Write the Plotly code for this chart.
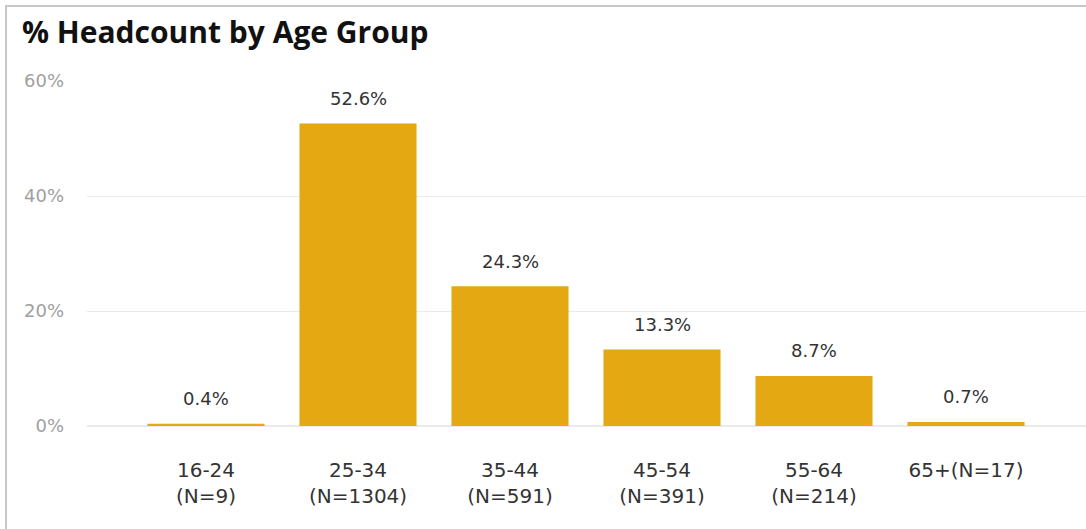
import plotly.graph_objects as go

categories = ["16-24<br>(N=9)", "25-34<br>(N=1304)", "35-44<br>(N=591)",
              "45-54<br>(N=391)", "55-64<br>(N=214)", "65+(N=17)"]
values = [0.4, 52.6, 24.3, 13.3, 8.7, 0.7]
y_ticks = [0, 20, 40, 60]
y_tick_labels = ["0%", "20%", "40%", "60%"]

W, H = 1086, 529
L, R, T, B = 87, 0, 81, 103
pw, ph = W - L - R, H - T - B

bar_color = "#E3A812"
FONT = "DejaVu Sans"

fig = go.Figure()
fig.add_trace(go.Bar(
    x=categories, y=values, marker=dict(color=bar_color, line=dict(width=0)),
    hoverinfo="skip",
))

annotations = []
for c, v in zip(categories, values):
    annotations.append(dict(
        x=c, y=v, xref="x", yref="y", text=f"{v:.1f}%", showarrow=False,
        yanchor="middle", yshift=25,
        font=dict(family=FONT, size=18, color="#333333"),
    ))

fig.update_layout(
    width=W, height=H,
    margin=dict(l=L, r=R, t=T, b=B, pad=0),
    paper_bgcolor="white", plot_bgcolor="white",
    bargap=0.23,
    showlegend=False,
    title=dict(text="<b>% Headcount by Age Group</b>", x=22 / W, xanchor="left",
               xref="container", y=1 - 32 / H, yref="container", yanchor="middle",
               font=dict(family="Open Sans", size=30, color="#111111")),
    annotations=annotations,
    shapes=[dict(type="rect", xref="paper", yref="paper",
                 x0=(6 - L) / pw, x1=(W + 20 - L) / pw,
                 y0=-1, y1=(H - B - 6) / ph,
                 line=dict(color="#C8C8C8", width=2), fillcolor="rgba(0,0,0,0)",
                 layer="below")],
    xaxis=dict(
        type="category",
        range=[-0.783, -0.783 + pw / 152.0],
        showgrid=False, zeroline=False, showline=False, ticks="",
        tickfont=dict(family=FONT, size=20, color="#333333"),
        ticklabelstandoff=30,
    ),
    yaxis=dict(
        range=[0, 60], tickvals=y_ticks, ticktext=y_tick_labels,
        showgrid=True, gridcolor="#EAEAEA", gridwidth=1,
        zeroline=True, zerolinecolor="#EAEAEA", zerolinewidth=2,
        showline=False, ticks="",
        tickfont=dict(family=FONT, size=18, color="#A0A0A0"),
        ticklabelstandoff=22,
    ),
)

fig.write_html("out.html", config={"displayModeBar": False},
               post_script="document.body.style.margin='0';")
